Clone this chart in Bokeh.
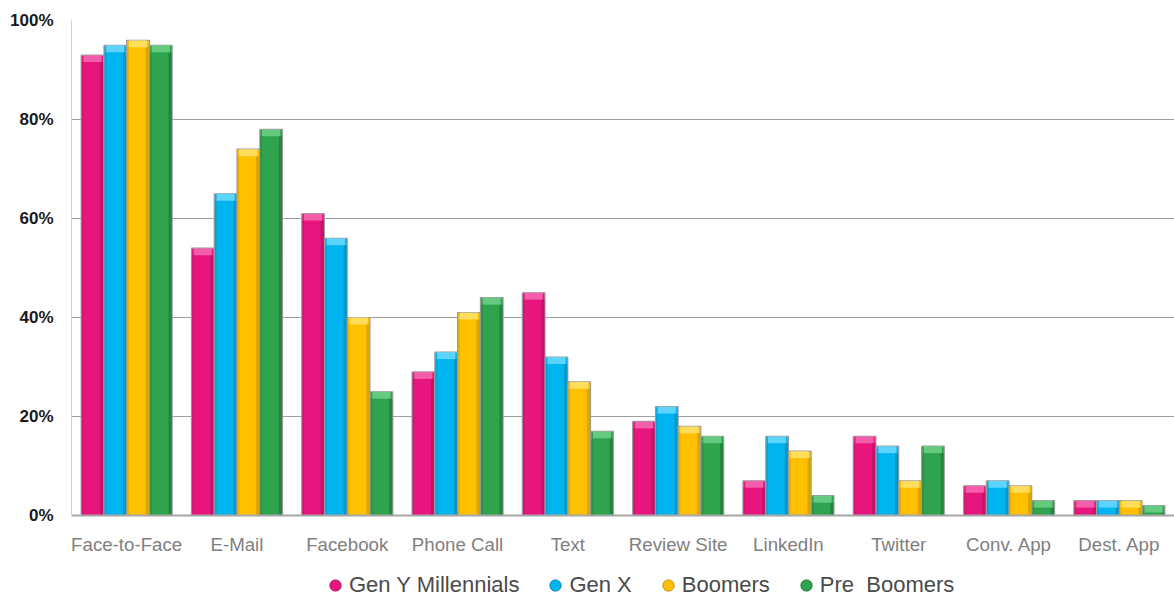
from bokeh.plotting import figure
from bokeh.layouts import column
from bokeh.models import ColumnDataSource, Range1d, FixedTicker, NumeralTickFormatter, Legend, LegendItem
from bokeh.embed import file_html
from bokeh.resources import INLINE

categories = ["Face-to-Face", "E-Mail", "Facebook", "Phone Call", "Text",
              "Review Site", "LinkedIn", "Twitter", "Conv. App", "Dest. App"]
series_names = ["Gen Y Millennials", "Gen X", "Boomers", "Pre  Boomers"]
gen_y = [93, 54, 61, 29, 45, 19, 7, 16, 6, 3]
gen_x = [95, 65, 56, 33, 32, 22, 16, 14, 7, 3]
boomers = [96, 74, 40, 41, 27, 18, 13, 7, 6, 3]
pre_boomers = [95, 78, 25, 44, 17, 16, 4, 14, 3, 2]
y_ticks = [0, 0.2, 0.4, 0.6, 0.8, 1.0]

colors = ["#E8157F", "#00B4F0", "#FFC000", "#2FA34D"]
dark = ["#A80F5C", "#0080AE", "#C08F00", "#1E6E33"]
light = ["#F56AB0", "#6DD9FF", "#FFE36B", "#6FD18A"]

p = figure(width=1174, height=560, x_range=Range1d(0, 10), y_range=Range1d(0, 1),
           output_backend="svg", toolbar_location=None,
           min_border_left=71, min_border_right=0, min_border_top=20, min_border_bottom=45)
p.outline_line_color = None
p.background_fill_color = "white"

series = [gen_y, gen_x, boomers, pre_boomers]
offsets = [-0.31, -0.103, 0.103, 0.31]
bw = 0.205
for vals, off, c, d, l in zip(series, offsets, colors, dark, light):
    xs = [i + 0.5 + off for i in range(len(categories))]
    tops = [v / 100 for v in vals]
    src = ColumnDataSource(dict(x=xs, top=tops,
                                cap=[t - 0.014 for t in tops],
                                xr=[x + bw / 2 - 0.018 for x in xs],
                                xl=[x - bw / 2 + 0.012 for x in xs]))
    p.vbar(x="x", top="top", bottom=0, width=bw, source=src,
           fill_color=c, line_color="#9C9C9C", line_width=1.2)
    # darker side shading (bevel)
    p.vbar(x="xr", top="cap", bottom=0.002, width=0.03, source=src,
           fill_color=d, fill_alpha=0.55, line_color=None)
    p.vbar(x="xl", top="cap", bottom=0.002, width=0.018, source=src,
           fill_color=d, fill_alpha=0.3, line_color=None)
    # lighter top cap
    p.vbar(x="x", top="top", bottom="cap", width=bw * 0.8, source=src,
           fill_color=l, fill_alpha=0.85, line_color=None)

# axes
p.xaxis.ticker = FixedTicker(ticks=[i + 0.5 for i in range(len(categories))])
p.xaxis.major_label_overrides = {i + 0.5: c for i, c in enumerate(categories)}
p.xaxis.major_label_text_font = "Liberation Sans"
p.xaxis.major_label_text_font_size = "18.7px"
p.xaxis.major_label_text_color = "#7F7F7F"
p.xaxis.major_label_standoff = 12
p.xaxis.major_tick_line_color = None
p.xaxis.minor_tick_line_color = None
p.xaxis.axis_line_color = "#A6A6A6"
p.xaxis.axis_line_width = 2

p.yaxis.ticker = FixedTicker(ticks=y_ticks)
p.yaxis.formatter = NumeralTickFormatter(format="0%")
p.yaxis.major_label_text_font = "Liberation Sans"
p.yaxis.major_label_text_font_size = "17px"
p.yaxis.major_label_text_font_style = "bold"
p.yaxis.major_label_text_color = "#1A1A1A"
p.yaxis.major_label_standoff = 12
p.yaxis.major_tick_line_color = None
p.yaxis.minor_tick_line_color = None
p.yaxis.axis_line_color = "#D0D0D0"

p.xgrid.grid_line_color = None
p.ygrid.grid_line_color = "#A0A0A0"
p.ygrid.grid_line_width = 1

# legend strip below the chart, circle markers as in the reference
lg = figure(width=1174, height=39, x_range=Range1d(0, 1), y_range=Range1d(0, 1),
            output_backend="svg", toolbar_location=None,
            x_axis_location=None, y_axis_location=None, min_border=0)
lg.outline_line_color = None
lg.xgrid.grid_line_color = None
lg.ygrid.grid_line_color = None
items = []
for name, c, d in zip(series_names, colors, dark):
    r = lg.scatter(x=[-5], y=[-5], marker="circle", size=13, fill_color=c, line_color=d)
    items.append(LegendItem(label=name, renderers=[r]))
legend = Legend(items=items, orientation="horizontal", location=(250, 0),
                label_text_font="Liberation Sans", label_text_font_size="22px",
                label_text_color="#4A4A4A", glyph_width=28, glyph_height=28,
                label_standoff=0, spacing=22, padding=0, margin=0,
                border_line_color=None, background_fill_alpha=0)
lg.add_layout(legend, "center")

layout = column(p, lg, spacing=0)
open("out.html", "w").write(file_html(layout, INLINE))
